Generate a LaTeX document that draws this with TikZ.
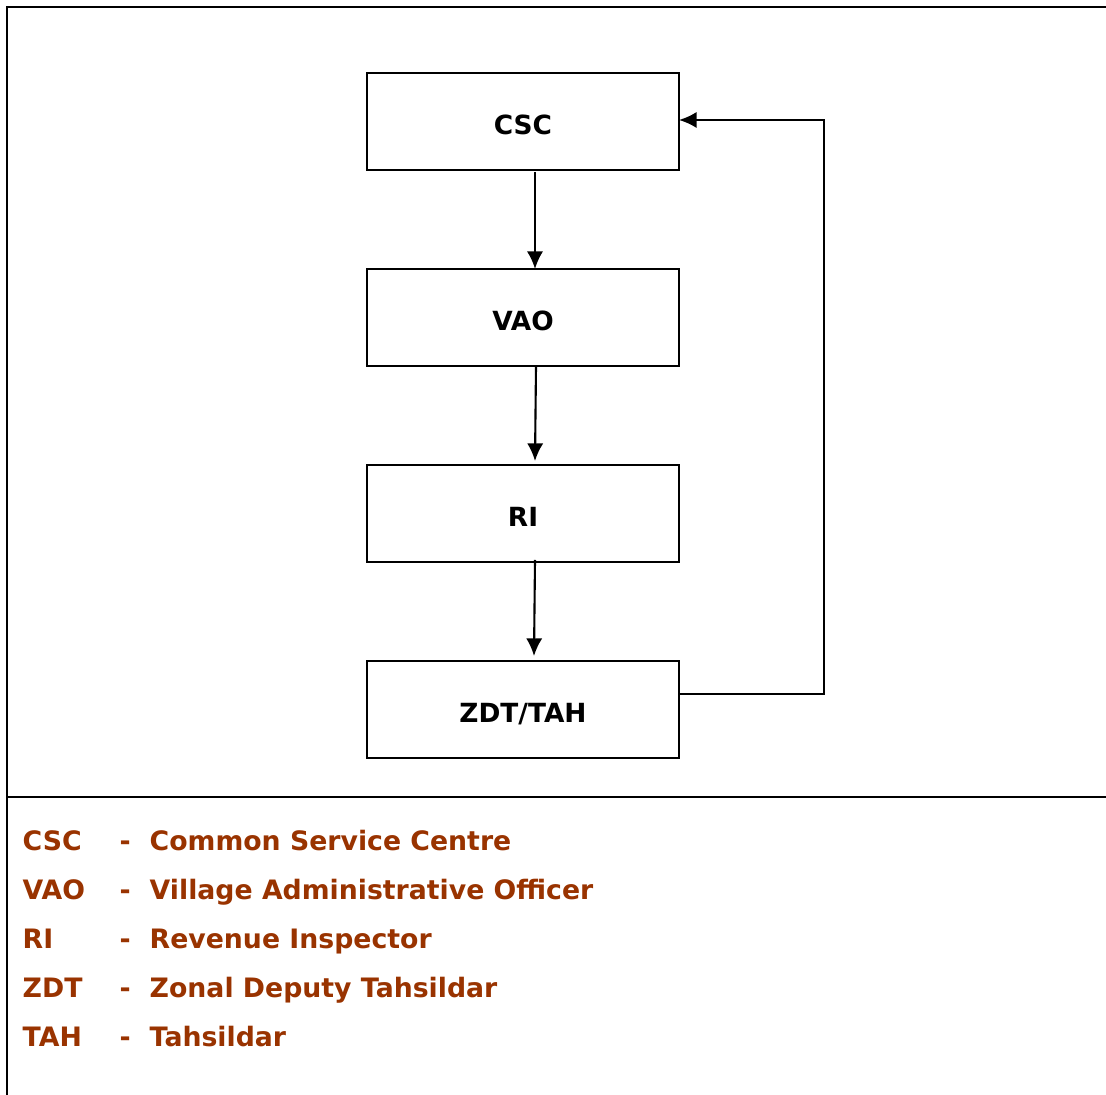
\documentclass[tikz,border=0pt]{standalone}
\usepackage{fontspec}
\setmainfont{DejaVu Sans}
\usetikzlibrary{arrows.meta}
\definecolor{legendbrown}{HTML}{993300}
\tikzset{
    stage/.style={draw, line width=0.7pt, minimum width=3.12cm, minimum height=0.97cm,
        text height=7.2pt, text depth=0pt,
        font=\bfseries\fontsize{7.5}{8}\selectfont},
    flow/.style={-{Latex[length=5pt,width=4.6pt]}, line width=0.6pt},
    legend/.style={anchor=base west, text=legendbrown, inner sep=0pt,
        font=\bfseries\fontsize{7.6}{9}\selectfont}
}
\begin{document}
\begin{tikzpicture}[x=0.01cm, y=-0.01cm]
    \useasboundingbox (0,0) rectangle (1106,1095);
    % frame
    \draw[line width=0.7pt] (7,1095) -- (7,7) -- (1106,7);
    \draw[line width=0.7pt] (7,797) -- (1106,797);

    \node[stage] (csc) at (523,121.5) {CSC};
    \node[stage] (vao) at (523,317.5) {VAO};
    \node[stage] (ri)  at (523,513.5) {RI};
    \node[stage] (zdt) at (523,709.5) {ZDT/TAH};

    \draw[flow] (535,172) -- (535,269);
    \draw[flow] (536,366) -- (535,461);
    \draw[flow] (535,560) -- (534,656);
    % back to CSC
    \coordinate (turnlow) at (824,694);
    \coordinate (turnhigh) at (824,120);
    \draw[flow] (679,694) -- (turnlow) -- (turnhigh) -- (679,120);

    % legend
    \foreach \abbr/\desc [count=\i from 0] in {CSC/Common Service Centre,
        VAO/Village Administrative Officer, RI/Revenue Inspector,
        ZDT/Zonal Deputy Tahsildar, TAH/Tahsildar}{
        \node[legend] (abbr\i) at (22,851+48.8*\i) {\abbr};
        \node[legend] (dash\i) at (119,851+48.8*\i) {-};
        \node[legend] (desc\i) at (149,851+48.8*\i) {\desc};
    }
\end{tikzpicture}
\end{document}
